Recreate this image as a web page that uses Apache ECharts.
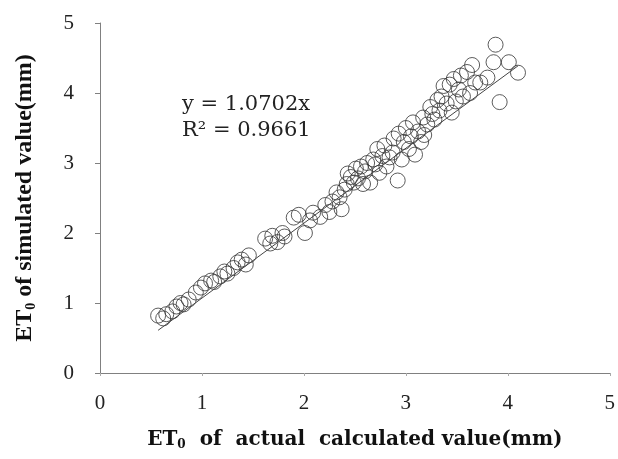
<!DOCTYPE html>
<html>
<head>
<meta charset="utf-8">
<script src="https://cdn.jsdelivr.net/npm/echarts@6/dist/echarts.min.js"></script>
<style>
 html,body{margin:0;padding:0;background:#fff;}
 #chart{width:618px;height:459px;}
</style>
</head>
<body>
<div id="chart"></div>
<script>
// ET0: actual calculated (x) vs simulated (y), mm
var pointsLow = [
  [0.57,0.82],[0.62,0.78],[0.65,0.84],[0.71,0.88],[0.75,0.95],[0.79,1.00],[0.82,0.98],
  [0.87,1.05],[0.94,1.15],[0.99,1.22],[1.03,1.28],[1.09,1.32],[1.12,1.30],[1.18,1.38],
  [1.22,1.45],[1.25,1.42],[1.31,1.50],[1.35,1.58],[1.39,1.62],[1.43,1.55],[1.46,1.68]
];
var pointsMid = [
  [1.62,1.92],[1.67,1.85],[1.69,1.96],[1.74,1.87],[1.79,2.00],[1.81,1.95],[1.90,2.22],
  [1.95,2.26],[2.01,2.00],[2.06,2.18],[2.09,2.29],[2.16,2.23],[2.21,2.40],[2.25,2.30],
  [2.28,2.45],[2.32,2.58],[2.35,2.51],[2.37,2.34],[2.40,2.62],[2.42,2.70],[2.43,2.85],
  [2.46,2.80],[2.49,2.72],[2.51,2.92],[2.53,2.78],[2.56,2.95],[2.58,2.70],[2.60,2.88],
  [2.62,3.00],[2.65,2.72],[2.68,3.05],[2.70,2.98],[2.72,3.20],[2.74,2.86],[2.77,3.10]
];
var pointsHigh = [
  [2.79,3.25],[2.81,2.95],[2.84,3.08],[2.87,3.15],[2.88,3.35],[2.92,2.75],[2.93,3.42],
  [2.96,3.05],[2.98,3.30],[3.00,3.50],[3.03,3.20],[3.05,3.38],[3.07,3.58],[3.09,3.12],
  [3.12,3.45],[3.15,3.30],[3.17,3.65],[3.18,3.40],[3.21,3.55],[3.24,3.80],[3.26,3.70],
  [3.28,3.62],[3.31,3.90],[3.33,3.75],[3.35,3.95],[3.37,4.10],[3.40,3.85],[3.43,4.12],
  [3.45,3.72],[3.47,4.20],[3.49,3.88],[3.52,4.05],[3.54,4.25],[3.56,3.95],[3.60,4.30],
  [3.63,4.00],[3.65,4.40],[3.68,4.15],[3.73,4.15],[3.80,4.22],[3.86,4.44],[3.88,4.69],
  [3.92,3.87],[4.01,4.44],[4.10,4.29]
];
var slope = 1.0702;
var r2 = 0.9661;
var axisTicks = [0, 1, 2, 3, 4, 5];

var allPoints = pointsLow.concat(pointsMid, pointsHigh);
var xs = allPoints.map(function (p) { return p[0]; });
var xMin = Math.min.apply(null, xs), xMax = Math.max.apply(null, xs);
var trend = [[xMin, slope * xMin], [xMax, slope * xMax]];

var serif = '"Liberation Serif", "DejaVu Serif", serif';
var wideSerif = '"DejaVu Serif", "Liberation Serif", serif';

var myChart = echarts.init(document.getElementById('chart'));
myChart.setOption({
  animation: false,
  grid: { left: 100, right: 8, top: 23, bottom: 86 },
  xAxis: {
    type: 'value', min: axisTicks[0], max: axisTicks[axisTicks.length - 1], interval: 1,
    name: 'ET{sub|0}  of  actual  calculated value(mm)',
    nameLocation: 'middle', nameGap: 56,
    nameTextStyle: {
      fontFamily: wideSerif, fontSize: 20, fontWeight: 'bold', color: '#111',
      rich: { sub: { fontFamily: wideSerif, fontSize: 12, fontWeight: 'bold', color: '#111', padding: [10, 0, 0, 0] } }
    },
    axisLine: { lineStyle: { color: '#808080', width: 1 } },
    axisTick: { show: true, length: 3, lineStyle: { color: '#aaa' } },
    axisLabel: { fontFamily: serif, fontSize: 21, color: '#222', margin: 20 },
    splitLine: { show: false }
  },
  yAxis: {
    type: 'value', min: axisTicks[0], max: axisTicks[axisTicks.length - 1], interval: 1,
    name: 'ET{sub|0} of simulated value(mm)',
    nameLocation: 'middle', nameGap: 62,
    nameTextStyle: {
      fontFamily: serif, fontSize: 24, fontWeight: 'bold', color: '#111',
      rich: { sub: { fontFamily: serif, fontSize: 14, fontWeight: 'bold', color: '#111', padding: [12, 0, 0, 0] } }
    },
    axisLine: { show: true, lineStyle: { color: '#808080', width: 1 } },
    axisTick: { show: true, length: 5, lineStyle: { color: '#808080' } },
    axisLabel: { fontFamily: serif, fontSize: 21, color: '#222', margin: 26 },
    splitLine: { show: false }
  },
  graphic: [
    { type: 'text', left: 182, top: 94, style: { text: 'y = ' + slope + 'x', font: '21px ' + wideSerif, fill: '#222' } },
    { type: 'text', left: 182, top: 120, style: { text: 'R² = ' + r2, font: '21px ' + wideSerif, fill: '#222' } }
  ],
  series: [
    {
      type: 'scatter',
      data: allPoints,
      symbol: 'circle',
      symbolSize: 15,
      itemStyle: { color: 'rgba(0,0,0,0)', borderColor: '#333', borderWidth: 1 }
    },
    {
      type: 'line',
      data: trend,
      symbol: 'none',
      lineStyle: { color: '#444', width: 1 },
      z: 3
    }
  ]
});
</script>
</body>
</html>
